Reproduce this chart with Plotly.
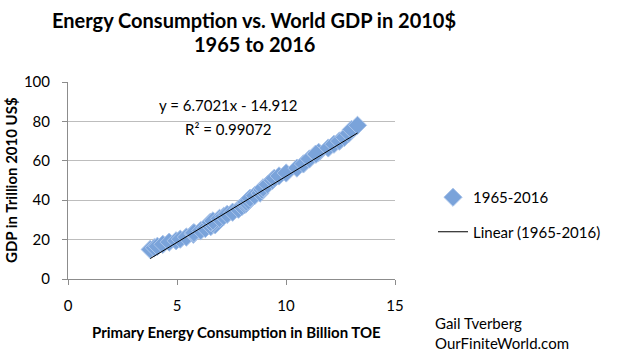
import plotly.graph_objects as go

# Data: primary energy consumption (billion TOE) vs world GDP (trillion 2010 US$), 1965-2016
years = list(range(1965, 2017))
energy = [3.77, 3.96, 4.10, 4.35, 4.64, 4.96, 5.15, 5.43, 5.75, 5.74,
          5.78, 6.09, 6.30, 6.55, 6.75, 6.64, 6.57, 6.53, 6.65, 6.95,
          7.14, 7.30, 7.55, 7.82, 7.97, 8.11, 8.17, 8.18, 8.27, 8.35,
          8.56, 8.81, 8.90, 8.95, 9.15, 9.38, 9.46, 9.68, 10.01, 10.50,
          10.80, 11.07, 11.36, 11.50, 11.38, 11.94, 12.20, 12.45, 12.68, 12.88,
          13.00, 13.28]
gdp = [15.0, 15.9, 16.6, 17.6, 18.7, 19.4, 20.2, 21.3, 22.7, 23.2,
       23.5, 24.6, 25.6, 26.6, 27.5, 28.1, 28.6, 28.8, 29.5, 30.8,
       31.8, 32.8, 33.9, 35.4, 36.7, 37.8, 38.3, 39.1, 39.8, 41.0,
       42.3, 43.6, 45.2, 46.3, 47.9, 50.1, 51.1, 52.3, 53.8, 56.3,
       58.4, 60.9, 63.4, 64.3, 63.4, 66.5, 68.4, 70.0, 71.9, 73.9,
       75.9, 78.0]
slope = 6.7021
intercept = -14.912
r_squared = 0.99072
x_ticks = [0, 5, 10, 15]
y_ticks = [0, 20, 40, 60, 80, 100]

FONT = "Lato"
L, R, T, B = 68, 229, 82, 77
PW, PH = 624 - L - R, 356 - T - B


def px_x(p):
    return (p - L) / PW


def px_y(p):
    return (356 - B - p) / PH


fig = go.Figure()
fig.add_trace(go.Scatter(
    x=energy, y=gdp, mode="markers", name="1965-2016",
    legendgroup="a",
    marker=dict(symbol="diamond", size=14, color="#7AA3DA",
                line=dict(color="#A8C3EA", width=1)),
))
xl = [min(energy), max(energy)]
fig.add_trace(go.Scatter(
    x=xl, y=[slope * v + intercept for v in xl], mode="lines",
    name="Linear (1965-2016)", legendgroup="b",
    line=dict(color="black", width=1),
))

# Title
fig.add_annotation(x=px_x(254), y=px_y(20), xref="paper", yref="paper",
                   showarrow=False, yanchor="middle",
                   text="<b>Energy Consumption vs. World GDP in 2010$</b>",
                   font=dict(family=FONT, size=20, color="black"))
fig.add_annotation(x=px_x(254), y=px_y(44), xref="paper", yref="paper",
                   showarrow=False, yanchor="middle",
                   text="<b>1965 to 2016</b>",
                   font=dict(family=FONT, size=20, color="black"))

# Axis titles
fig.add_annotation(x=px_x(236), y=px_y(332), xref="paper", yref="paper",
                   showarrow=False, yanchor="middle",
                   text="<b>Primary Energy Consumption in Billion TOE</b>",
                   font=dict(family=FONT, size=15, color="black"))
fig.add_annotation(x=px_x(11), y=px_y(180), xref="paper", yref="paper",
                   showarrow=False, xanchor="center", yanchor="middle",
                   textangle=-90,
                   text="<b>GDP in Trillion 2010 US$</b>",
                   font=dict(family=FONT, size=15, color="black"))

# Trend equation
fig.add_annotation(x=px_x(228), y=px_y(105), xref="paper", yref="paper",
                   showarrow=False, yanchor="middle",
                   text=f"y = {slope}x - {abs(intercept)}",
                   font=dict(family=FONT, size=15, color="black"))
fig.add_annotation(x=px_x(228), y=px_y(129), xref="paper", yref="paper",
                   showarrow=False, yanchor="middle",
                   text=f"R² = {r_squared}",
                   font=dict(family=FONT, size=15, color="black"))

# Credit
fig.add_annotation(x=px_x(433), y=px_y(323), xref="paper", yref="paper",
                   xanchor="left", yanchor="middle", showarrow=False,
                   text="Gail Tverberg",
                   font=dict(family=FONT, size=15, color="black"))
fig.add_annotation(x=px_x(433), y=px_y(343), xref="paper", yref="paper",
                   xanchor="left", yanchor="middle", showarrow=False,
                   text="OurFiniteWorld.com",
                   font=dict(family=FONT, size=15, color="black"))

fig.update_layout(
    width=624, height=356,
    margin=dict(l=L, r=R, t=T, b=B),
    paper_bgcolor="white", plot_bgcolor="white",
    font=dict(family=FONT, size=15, color="black"),
    showlegend=True,
    legend=dict(
        x=px_x(433), y=px_y(181), xanchor="left", yanchor="top",
        font=dict(family=FONT, size=15, color="black"),
        tracegroupgap=12, bgcolor="rgba(0,0,0,0)",
    ),
    xaxis=dict(
        range=[0, 15], tickvals=x_ticks, showgrid=False, zeroline=False,
        automargin=False,
        showline=True, linecolor="#8c8c8c", linewidth=1,
        ticks="outside", ticklen=5, tickcolor="#8c8c8c",
        ticklabelstandoff=8,
        tickfont=dict(family=FONT, size=15),
    ),
    yaxis=dict(
        range=[0, 100], tickvals=y_ticks, showgrid=True, gridcolor="#bdbdbd",
        automargin=False,
        zeroline=False, showline=True, linecolor="#8c8c8c", linewidth=1,
        ticks="outside", ticklen=5, tickcolor="#8c8c8c",
        ticklabelstandoff=9,
        tickfont=dict(family=FONT, size=15),
    ),
)

fig.write_html("out.html", config={"displayModeBar": False},
               post_script="document.body.style.margin='0';document.body.style.padding='0';")
